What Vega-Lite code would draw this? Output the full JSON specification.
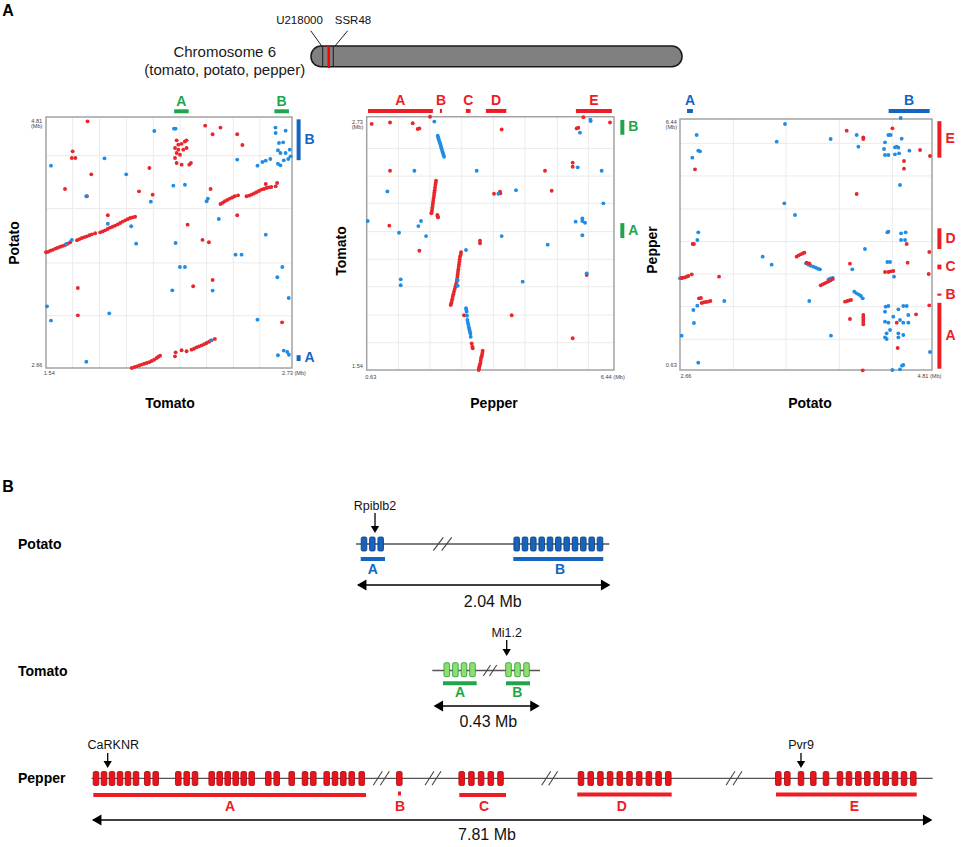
{
"$schema":"https://vega.github.io/schema/vega-lite/v6.json",
"width":964,"height":847,"autosize":{"type":"none"},"padding":0,"background":"white",
"config":{"view":{"stroke":null},"text":{"font":"Liberation Sans"}},
"datasets":{
"clusters":[
{"sp":"tomato","c":"A","start":2.16,"end":2.23,"mid":2.195},
{"sp":"tomato","c":"B","start":2.645,"end":2.715,"mid":2.68},
{"sp":"potato","c":"A","start":2.72,"end":2.77,"mid":2.745},
{"sp":"potato","c":"B","start":4.44,"end":4.79,"mid":4.615},
{"sp":"pepper","c":"A","start":0.66,"end":2.185,"mid":1.42},
{"sp":"pepper","c":"B","start":2.35,"end":2.4,"mid":2.375},
{"sp":"pepper","c":"C","start":2.96,"end":3.07,"mid":3.015},
{"sp":"pepper","c":"D","start":3.43,"end":3.91,"mid":3.67},
{"sp":"pepper","c":"E","start":5.545,"end":6.39,"mid":5.9675}],
"p1":[
{"x":1.540,"y":3.651,"s":"r"},{"x":1.550,"y":3.655,"s":"r"},{"x":1.561,"y":3.665,"s":"r"},{"x":1.573,"y":3.672,"s":"r"},{"x":1.585,"y":3.682,"s":"r"},{"x":1.597,"y":3.690,"s":"r"},{"x":1.609,"y":3.699,"s":"r"},{"x":1.621,"y":3.706,"s":"r"},{"x":1.633,"y":3.714,"s":"r"},{"x":1.645,"y":3.725,"s":"r"},{"x":1.657,"y":3.737,"s":"r"},
{"x":1.690,"y":3.754,"s":"r"},{"x":1.702,"y":3.764,"s":"r"},{"x":1.714,"y":3.774,"s":"r"},{"x":1.726,"y":3.781,"s":"r"},{"x":1.738,"y":3.788,"s":"r"},{"x":1.750,"y":3.797,"s":"r"},{"x":1.762,"y":3.805,"s":"r"},{"x":1.778,"y":3.814,"s":"r"},
{"x":1.802,"y":3.822,"s":"r"},{"x":1.814,"y":3.830,"s":"r"},{"x":1.826,"y":3.839,"s":"r"},{"x":1.838,"y":3.851,"s":"r"},{"x":1.850,"y":3.862,"s":"r"},{"x":1.862,"y":3.870,"s":"r"},{"x":1.874,"y":3.879,"s":"r"},{"x":1.887,"y":3.890,"s":"r"},{"x":1.899,"y":3.902,"s":"r"},{"x":1.911,"y":3.914,"s":"r"},{"x":1.923,"y":3.925,"s":"r"},{"x":1.935,"y":3.935,"s":"r"},{"x":1.947,"y":3.945,"s":"r"},{"x":1.959,"y":3.950,"s":"r"},{"x":1.971,"y":3.956,"s":"r"},
{"x":1.955,"y":2.660,"s":"r"},{"x":1.967,"y":2.667,"s":"r"},{"x":1.979,"y":2.674,"s":"r"},{"x":1.991,"y":2.681,"s":"r"},{"x":2.003,"y":2.689,"s":"r"},{"x":2.015,"y":2.696,"s":"r"},{"x":2.027,"y":2.703,"s":"r"},{"x":2.039,"y":2.710,"s":"r"},{"x":2.051,"y":2.720,"s":"r"},{"x":2.063,"y":2.731,"s":"r"},{"x":2.075,"y":2.746,"s":"r"},{"x":2.084,"y":2.756,"s":"r"},{"x":2.092,"y":2.766,"s":"r"},
{"x":2.164,"y":2.760,"s":"r"},{"x":2.167,"y":2.794,"s":"r"},{"x":2.196,"y":2.812,"s":"r"},{"x":2.220,"y":2.803,"s":"r"},{"x":2.244,"y":2.817,"s":"r"},{"x":2.256,"y":2.825,"s":"r"},{"x":2.268,"y":2.837,"s":"r"},{"x":2.280,"y":2.845,"s":"r"},{"x":2.293,"y":2.854,"s":"r"},{"x":2.305,"y":2.864,"s":"r"},{"x":2.317,"y":2.874,"s":"r"},{"x":2.329,"y":2.885,"s":"r"},{"x":2.341,"y":2.897,"s":"r"},{"x":2.357,"y":2.909,"s":"r"},
{"x":2.384,"y":4.065,"s":"r"},{"x":2.395,"y":4.075,"s":"r"},{"x":2.405,"y":4.088,"s":"r"},{"x":2.417,"y":4.100,"s":"r"},{"x":2.429,"y":4.111,"s":"r"},{"x":2.441,"y":4.120,"s":"r"},{"x":2.453,"y":4.131,"s":"r"},{"x":2.469,"y":4.139,"s":"r"},{"x":2.510,"y":4.131,"s":"r"},{"x":2.522,"y":4.136,"s":"r"},{"x":2.534,"y":4.145,"s":"r"},{"x":2.546,"y":4.155,"s":"r"},{"x":2.558,"y":4.165,"s":"r"},{"x":2.570,"y":4.176,"s":"r"},{"x":2.582,"y":4.188,"s":"r"},{"x":2.594,"y":4.193,"s":"r"},{"x":2.606,"y":4.202,"s":"r"},{"x":2.618,"y":4.207,"s":"r"},{"x":2.630,"y":4.210,"s":"r"},{"x":2.651,"y":4.216,"s":"r"},{"x":2.658,"y":4.245,"s":"r"},{"x":2.603,"y":4.236,"s":"r"},
{"x":2.172,"y":4.610,"s":"r"},{"x":2.220,"y":4.610,"s":"r"},{"x":2.180,"y":4.573,"s":"r"},{"x":2.164,"y":4.544,"s":"r"},{"x":2.204,"y":4.530,"s":"r"},{"x":2.220,"y":4.544,"s":"r"},{"x":2.172,"y":4.502,"s":"r"},{"x":2.188,"y":4.487,"s":"r"},{"x":2.164,"y":4.459,"s":"r"},{"x":2.172,"y":4.416,"s":"r"},{"x":2.196,"y":4.402,"s":"r"},{"x":2.233,"y":4.402,"s":"r"},{"x":2.241,"y":4.416,"s":"r"},{"x":2.180,"y":4.530,"s":"r"},{"x":2.196,"y":4.580,"s":"r"},{"x":2.212,"y":4.600,"s":"r"},
{"x":1.741,"y":4.773,"s":"r"},{"x":1.669,"y":4.516,"s":"r"},{"x":1.665,"y":4.459,"s":"r"},{"x":1.682,"y":4.459,"s":"r"},{"x":1.759,"y":4.319,"s":"r"},{"x":1.632,"y":4.193,"s":"r"},{"x":1.738,"y":4.131,"s":"r"},{"x":2.040,"y":4.373,"s":"r"},{"x":1.990,"y":4.173,"s":"r"},{"x":2.056,"y":4.145,"s":"r"},{"x":1.839,"y":3.968,"s":"r"},{"x":2.310,"y":4.736,"s":"r"},{"x":2.346,"y":4.662,"s":"r"},{"x":2.384,"y":4.719,"s":"r"},{"x":2.465,"y":4.662,"s":"r"},{"x":2.490,"y":4.570,"s":"r"},{"x":2.225,"y":3.888,"s":"r"},{"x":2.297,"y":3.757,"s":"r"},{"x":2.328,"y":3.737,"s":"r"},{"x":2.336,"y":4.193,"s":"r"},{"x":2.465,"y":3.968,"s":"r"},{"x":1.694,"y":3.345,"s":"r"},{"x":1.694,"y":3.111,"s":"r"},{"x":2.252,"y":3.360,"s":"r"},{"x":2.346,"y":3.414,"s":"r"},{"x":2.682,"y":3.051,"s":"r"},
{"x":1.564,"y":4.393,"s":"b"},{"x":1.823,"y":4.456,"s":"b"},{"x":1.928,"y":4.319,"s":"b"},{"x":1.735,"y":4.131,"s":"b"},{"x":2.064,"y":4.690,"s":"b"},{"x":2.159,"y":4.710,"s":"b"},{"x":2.167,"y":4.710,"s":"b"},{"x":2.156,"y":4.222,"s":"b"},{"x":2.212,"y":4.230,"s":"b"},{"x":2.047,"y":4.085,"s":"b"},{"x":2.317,"y":4.088,"s":"b"},{"x":2.323,"y":4.111,"s":"b"},{"x":2.465,"y":4.445,"s":"b"},{"x":2.563,"y":4.393,"s":"b"},{"x":2.587,"y":4.425,"s":"b"},{"x":2.603,"y":4.436,"s":"b"},{"x":2.625,"y":4.450,"s":"b"},{"x":2.650,"y":4.719,"s":"b"},{"x":2.651,"y":4.673,"s":"b"},{"x":2.699,"y":4.693,"s":"b"},{"x":2.667,"y":4.587,"s":"b"},{"x":2.687,"y":4.593,"s":"b"},{"x":2.662,"y":4.525,"s":"b"},{"x":2.674,"y":4.502,"s":"b"},{"x":2.699,"y":4.502,"s":"b"},{"x":2.719,"y":4.530,"s":"b"},{"x":2.662,"y":4.410,"s":"b"},{"x":2.674,"y":4.396,"s":"b"},{"x":2.690,"y":4.439,"s":"b"},{"x":2.712,"y":4.450,"s":"b"},{"x":2.723,"y":4.473,"s":"b"},{"x":1.839,"y":3.896,"s":"b"},{"x":1.952,"y":3.874,"s":"b"},{"x":1.976,"y":3.725,"s":"b"},{"x":1.665,"y":3.757,"s":"b"},{"x":1.638,"y":3.722,"s":"b"},{"x":2.167,"y":3.731,"s":"b"},{"x":2.376,"y":3.936,"s":"b"},{"x":2.603,"y":3.802,"s":"b"},{"x":2.457,"y":3.631,"s":"b"},{"x":2.486,"y":3.631,"s":"b"},{"x":2.188,"y":3.525,"s":"b"},{"x":2.212,"y":3.525,"s":"b"},{"x":2.151,"y":3.325,"s":"b"},{"x":2.346,"y":3.323,"s":"b"},{"x":2.659,"y":3.437,"s":"b"},{"x":2.683,"y":3.525,"s":"b"},{"x":2.714,"y":3.260,"s":"b"},{"x":1.545,"y":3.188,"s":"b"},{"x":1.564,"y":3.066,"s":"b"},{"x":1.846,"y":3.128,"s":"b"},{"x":2.563,"y":3.074,"s":"b"},{"x":1.735,"y":2.714,"s":"b"},{"x":2.662,"y":2.769,"s":"b"},{"x":2.690,"y":2.809,"s":"b"},{"x":2.707,"y":2.797,"s":"b"},{"x":2.715,"y":2.774,"s":"b"},{"x":2.338,"y":2.897,"s":"b"}],
"p2":[
{"x":0.747,"y":2.696,"s":"r"},{"x":1.178,"y":2.703,"s":"r"},{"x":1.711,"y":2.699,"s":"r"},{"x":1.828,"y":2.672,"s":"r"},{"x":1.867,"y":2.675,"s":"r"},{"x":2.118,"y":2.730,"s":"r"},{"x":1.178,"y":2.476,"s":"r"},{"x":1.162,"y":2.218,"s":"r"},{"x":1.867,"y":2.100,"s":"r"},{"x":3.801,"y":2.670,"s":"r"},{"x":4.819,"y":2.476,"s":"r"},{"x":4.976,"y":2.382,"s":"r"},{"x":3.621,"y":2.368,"s":"r"},{"x":3.762,"y":2.378,"s":"r"},{"x":3.770,"y":2.370,"s":"r"},{"x":3.292,"y":2.147,"s":"r"},{"x":3.292,"y":2.135,"s":"r"},{"x":4.036,"y":1.797,"s":"r"},{"x":5.469,"y":1.689,"s":"r"},{"x":5.469,"y":2.514,"s":"r"},{"x":5.469,"y":2.495,"s":"r"},{"x":5.563,"y":2.675,"s":"r"},{"x":5.602,"y":2.678,"s":"r"},{"x":5.720,"y":2.728,"s":"r"},{"x":6.346,"y":2.703,"s":"r"},{"x":5.798,"y":1.986,"s":"r"},
{"x":2.259,"y":2.429,"s":"r"},{"x":2.251,"y":2.419,"s":"r"},{"x":2.243,"y":2.409,"s":"r"},{"x":2.235,"y":2.397,"s":"r"},{"x":2.227,"y":2.385,"s":"r"},{"x":2.219,"y":2.374,"s":"r"},{"x":2.212,"y":2.362,"s":"r"},{"x":2.204,"y":2.350,"s":"r"},{"x":2.196,"y":2.339,"s":"r"},{"x":2.188,"y":2.327,"s":"r"},{"x":2.180,"y":2.315,"s":"r"},{"x":2.172,"y":2.303,"s":"r"},{"x":2.165,"y":2.292,"s":"r"},{"x":2.157,"y":2.282,"s":"r"},{"x":2.149,"y":2.276,"s":"r"},{"x":2.290,"y":2.268,"s":"r"},{"x":2.298,"y":2.262,"s":"r"},{"x":2.306,"y":2.257,"s":"r"},
{"x":2.846,"y":2.093,"s":"r"},{"x":2.838,"y":2.082,"s":"r"},{"x":2.822,"y":2.072,"s":"r"},{"x":2.815,"y":2.060,"s":"r"},{"x":2.807,"y":2.049,"s":"r"},{"x":2.799,"y":2.037,"s":"r"},{"x":2.791,"y":2.025,"s":"r"},{"x":2.783,"y":2.013,"s":"r"},{"x":2.775,"y":2.002,"s":"r"},{"x":2.768,"y":1.990,"s":"r"},{"x":2.760,"y":1.978,"s":"r"},{"x":2.752,"y":1.966,"s":"r"},{"x":2.744,"y":1.955,"s":"r"},{"x":2.729,"y":1.943,"s":"r"},{"x":2.713,"y":1.931,"s":"r"},{"x":2.697,"y":1.920,"s":"r"},{"x":2.681,"y":1.908,"s":"r"},{"x":2.666,"y":1.896,"s":"r"},{"x":2.650,"y":1.884,"s":"r"},{"x":2.639,"y":1.872,"s":"r"},{"x":2.627,"y":1.861,"s":"r"},{"x":2.615,"y":1.853,"s":"r"},{"x":2.603,"y":1.845,"s":"r"},
{"x":2.916,"y":1.797,"s":"r"},{"x":3.096,"y":1.665,"s":"r"},{"x":3.112,"y":1.650,"s":"r"},{"x":3.120,"y":1.642,"s":"r"},
{"x":3.355,"y":1.631,"s":"r"},{"x":3.347,"y":1.620,"s":"r"},{"x":3.339,"y":1.610,"s":"r"},{"x":3.328,"y":1.602,"s":"r"},{"x":3.316,"y":1.595,"s":"r"},{"x":3.308,"y":1.584,"s":"r"},{"x":3.300,"y":1.572,"s":"r"},{"x":3.288,"y":1.564,"s":"r"},{"x":3.277,"y":1.556,"s":"r"},{"x":3.269,"y":1.548,"s":"r"},{"x":3.261,"y":1.540,"s":"r"},
{"x":2.219,"y":2.707,"s":"b"},{"x":5.892,"y":2.710,"s":"b"},{"x":5.884,"y":2.716,"s":"b"},{"x":5.641,"y":2.655,"s":"b"},{"x":1.750,"y":2.476,"s":"b"},{"x":3.214,"y":2.476,"s":"b"},{"x":5.586,"y":2.492,"s":"b"},{"x":6.150,"y":2.476,"s":"b"},{"x":1.115,"y":2.379,"s":"b"},{"x":4.138,"y":2.385,"s":"b"},{"x":3.723,"y":2.368,"s":"b"},{"x":6.189,"y":2.323,"s":"b"},{"x":0.653,"y":2.240,"s":"b"},{"x":1.906,"y":2.240,"s":"b"},{"x":1.844,"y":2.216,"s":"b"},{"x":1.390,"y":2.185,"s":"b"},{"x":2.024,"y":2.169,"s":"b"},{"x":3.801,"y":2.169,"s":"b"},{"x":4.882,"y":2.129,"s":"b"},{"x":2.963,"y":2.104,"s":"b"},{"x":5.539,"y":2.237,"s":"b"},{"x":5.696,"y":2.252,"s":"b"},{"x":5.696,"y":2.240,"s":"b"},{"x":5.759,"y":2.232,"s":"b"},{"x":5.696,"y":2.173,"s":"b"},{"x":5.798,"y":1.994,"s":"b"},{"x":1.429,"y":1.966,"s":"b"},{"x":1.429,"y":1.938,"s":"b"},{"x":4.294,"y":1.955,"s":"b"},{"x":2.768,"y":1.963,"s":"b"},{"x":2.768,"y":1.936,"s":"b"},
{"x":2.298,"y":2.641,"s":"b"},{"x":2.310,"y":2.632,"s":"b"},{"x":2.321,"y":2.624,"s":"b"},{"x":2.337,"y":2.614,"s":"b"},{"x":2.353,"y":2.605,"s":"b"},{"x":2.365,"y":2.597,"s":"b"},{"x":2.376,"y":2.589,"s":"b"},{"x":2.388,"y":2.581,"s":"b"},{"x":2.400,"y":2.573,"s":"b"},{"x":2.411,"y":2.565,"s":"b"},{"x":2.423,"y":2.558,"s":"b"},{"x":2.435,"y":2.550,"s":"b"},{"x":2.447,"y":2.542,"s":"b"},
{"x":2.963,"y":1.830,"s":"b"},{"x":2.971,"y":1.822,"s":"b"},{"x":2.979,"y":1.814,"s":"b"},{"x":2.987,"y":1.795,"s":"b"},{"x":2.995,"y":1.775,"s":"b"},{"x":3.006,"y":1.763,"s":"b"},{"x":3.018,"y":1.752,"s":"b"},{"x":3.030,"y":1.741,"s":"b"},{"x":3.042,"y":1.731,"s":"b"},{"x":3.053,"y":1.721,"s":"b"},{"x":3.065,"y":1.712,"s":"b"},{"x":3.073,"y":1.696,"s":"b"}],
"p3":[
{"x":3.556,"y":6.324,"s":"b"},{"x":3.485,"y":5.915,"s":"b"},{"x":3.945,"y":5.977,"s":"b"},{"x":4.167,"y":6.070,"s":"b"},{"x":4.182,"y":5.800,"s":"b"},{"x":2.802,"y":6.070,"s":"b"},{"x":2.816,"y":5.707,"s":"b"},{"x":2.831,"y":5.692,"s":"b"},{"x":2.765,"y":5.545,"s":"b"},{"x":4.543,"y":6.463,"s":"b"},{"x":4.438,"y":6.070,"s":"b"},{"x":4.457,"y":6.070,"s":"b"},{"x":4.409,"y":5.900,"s":"b"},{"x":4.401,"y":5.746,"s":"b"},{"x":4.409,"y":5.607,"s":"b"},{"x":4.438,"y":5.607,"s":"b"},{"x":4.494,"y":5.784,"s":"b"},{"x":4.509,"y":5.800,"s":"b"},{"x":4.523,"y":5.776,"s":"b"},{"x":4.551,"y":5.985,"s":"b"},{"x":4.494,"y":5.622,"s":"b"},{"x":4.529,"y":5.645,"s":"b"},{"x":4.617,"y":5.707,"s":"b"},{"x":4.537,"y":4.912,"s":"b"},{"x":3.550,"y":4.488,"s":"b"},{"x":3.641,"y":4.218,"s":"b"},{"x":2.816,"y":3.817,"s":"b"},{"x":2.808,"y":3.639,"s":"b"},{"x":4.429,"y":3.817,"s":"b"},{"x":4.438,"y":3.832,"s":"b"},{"x":4.546,"y":3.793,"s":"b"},{"x":4.585,"y":3.817,"s":"b"},{"x":4.546,"y":3.639,"s":"b"},{"x":4.580,"y":3.639,"s":"b"},{"x":4.238,"y":3.431,"s":"b"},{"x":3.365,"y":3.253,"s":"b"},{"x":3.442,"y":3.068,"s":"b"},{"x":3.763,"y":2.227,"s":"b"},{"x":3.038,"y":2.227,"s":"b"},{"x":2.774,"y":2.019,"s":"b"},{"x":2.808,"y":2.119,"s":"b"},{"x":2.779,"y":1.718,"s":"b"},{"x":2.674,"y":1.425,"s":"b"},{"x":2.816,"y":0.800,"s":"b"},{"x":3.948,"y":1.425,"s":"b"},{"x":4.130,"y":2.960,"s":"b"},{"x":4.429,"y":3.130,"s":"b"},{"x":4.452,"y":3.130,"s":"b"},{"x":4.486,"y":2.790,"s":"b"},{"x":4.793,"y":1.047,"s":"b"},{"x":4.415,"y":2.096,"s":"b"},{"x":4.438,"y":2.111,"s":"b"},{"x":4.409,"y":1.980,"s":"b"},{"x":4.480,"y":1.865,"s":"b"},{"x":4.409,"y":1.749,"s":"b"},{"x":4.438,"y":1.726,"s":"b"},{"x":4.537,"y":1.787,"s":"b"},{"x":4.565,"y":2.111,"s":"b"},{"x":4.594,"y":2.111,"s":"b"},{"x":4.523,"y":2.034,"s":"b"},{"x":4.608,"y":1.903,"s":"b"},{"x":4.565,"y":1.726,"s":"b"},{"x":4.608,"y":1.726,"s":"b"},{"x":4.452,"y":1.556,"s":"b"},{"x":4.423,"y":1.479,"s":"b"},{"x":4.409,"y":1.386,"s":"b"},{"x":4.423,"y":1.347,"s":"b"},{"x":4.523,"y":1.479,"s":"b"},{"x":4.523,"y":1.386,"s":"b"},{"x":4.565,"y":1.440,"s":"b"},{"x":4.472,"y":0.630,"s":"b"},{"x":4.537,"y":0.645,"s":"b"},{"x":4.554,"y":0.730,"s":"b"},{"x":4.565,"y":0.746,"s":"b"},{"x":2.671,"y":2.760,"s":"b"},{"x":2.660,"y":2.752,"s":"b"},
{"x":3.735,"y":3.099,"s":"b"},{"x":3.755,"y":3.068,"s":"b"},{"x":3.775,"y":3.045,"s":"b"},{"x":3.798,"y":3.022,"s":"b"},{"x":3.818,"y":2.999,"s":"b"},{"x":3.837,"y":2.976,"s":"b"},{"x":3.854,"y":2.960,"s":"b"},{"x":3.928,"y":2.729,"s":"b"},{"x":3.945,"y":2.752,"s":"b"},{"x":3.963,"y":2.760,"s":"b"},{"x":4.147,"y":2.443,"s":"b"},{"x":4.167,"y":2.405,"s":"b"},{"x":4.187,"y":2.374,"s":"b"},{"x":4.204,"y":2.343,"s":"b"},{"x":4.219,"y":2.289,"s":"b"},
{"x":4.082,"y":6.170,"s":"r"},{"x":4.224,"y":6.016,"s":"r"},{"x":4.224,"y":5.977,"s":"r"},{"x":4.472,"y":6.224,"s":"r"},{"x":2.788,"y":5.275,"s":"r"},{"x":4.167,"y":4.704,"s":"r"},{"x":4.708,"y":5.722,"s":"r"},{"x":4.793,"y":5.584,"s":"r"},{"x":4.571,"y":5.468,"s":"r"},{"x":4.571,"y":5.290,"s":"r"},{"x":4.594,"y":3.547,"s":"r"},{"x":2.768,"y":3.547,"s":"r"},{"x":2.779,"y":3.547,"s":"r"},{"x":4.787,"y":3.361,"s":"r"},{"x":4.110,"y":3.091,"s":"r"},{"x":4.602,"y":3.114,"s":"r"},{"x":4.409,"y":2.898,"s":"r"},{"x":4.438,"y":2.898,"s":"r"},{"x":4.457,"y":2.914,"s":"r"},{"x":4.480,"y":2.922,"s":"r"},{"x":4.782,"y":2.852,"s":"r"},{"x":2.993,"y":2.790,"s":"r"},{"x":4.787,"y":2.127,"s":"r"},{"x":4.674,"y":1.918,"s":"r"},{"x":4.110,"y":1.810,"s":"r"},{"x":4.224,"y":1.903,"s":"r"},{"x":4.224,"y":1.849,"s":"r"},{"x":4.224,"y":1.795,"s":"r"},{"x":4.224,"y":1.741,"s":"r"},{"x":4.224,"y":1.687,"s":"r"},{"x":4.517,"y":1.139,"s":"r"},{"x":4.509,"y":1.726,"s":"r"},{"x":4.219,"y":0.622,"s":"r"},
{"x":2.674,"y":2.760,"s":"r"},{"x":2.688,"y":2.767,"s":"r"},{"x":2.703,"y":2.775,"s":"r"},{"x":2.717,"y":2.790,"s":"r"},{"x":2.731,"y":2.806,"s":"r"},{"x":2.760,"y":2.844,"s":"r"},
{"x":3.655,"y":3.253,"s":"r"},{"x":3.672,"y":3.284,"s":"r"},{"x":3.690,"y":3.307,"s":"r"},{"x":3.707,"y":3.330,"s":"r"},{"x":3.721,"y":3.346,"s":"r"},
{"x":3.860,"y":2.590,"s":"r"},{"x":3.877,"y":2.613,"s":"r"},{"x":3.894,"y":2.636,"s":"r"},{"x":3.911,"y":2.659,"s":"r"},{"x":3.928,"y":2.682,"s":"r"},{"x":3.945,"y":2.705,"s":"r"},{"x":3.963,"y":2.736,"s":"r"},
{"x":2.822,"y":2.289,"s":"r"},{"x":2.839,"y":2.297,"s":"r"},{"x":2.845,"y":2.181,"s":"r"},{"x":2.859,"y":2.196,"s":"r"},{"x":2.879,"y":2.204,"s":"r"},{"x":2.899,"y":2.212,"s":"r"},{"x":2.919,"y":2.227,"s":"r"},
{"x":3.741,"y":3.114,"s":"r"},{"x":3.763,"y":3.099,"s":"r"},
{"x":4.068,"y":2.212,"s":"r"},{"x":4.088,"y":2.227,"s":"r"},{"x":4.105,"y":2.243,"s":"r"},{"x":4.119,"y":2.250,"s":"r"}]
},
"layer":[
{
"encoding":{
"x":{"field":"x","type":"quantitative","scale":{"domain":[0,964],"range":[0,964],"nice":false,"zero":false},"axis":null},
"y":{"field":"y","type":"quantitative","scale":{"domain":[0,847],"range":[0,847],"nice":false,"zero":false},"axis":null}},
"layer":[
{"data":{"values":[{"x":311,"x2":682,"y":46,"y2":66.7}]},"mark":{"type":"rect","fill":"#808080","stroke":"#1a1a1a","strokeWidth":1.5,"cornerRadius":10},"encoding":{"x2":{"field":"x2"},"y2":{"field":"y2"}}},
{"data":{"values":[{"x":322.7,"y":46,"y2":66.7},{"x":333.3,"y":46,"y2":66.7}]},"mark":{"type":"rule","color":"#1a1a1a","strokeWidth":1},"encoding":{"y2":{"field":"y2"}}},
{"data":{"values":[{"x":328.7,"y":45,"y2":68}]},"mark":{"type":"rule","color":"#ff0000","strokeWidth":2.5},"encoding":{"y2":{"field":"y2"}}},
{"data":{"values":[{"x":310.7,"y":30.7,"x2":321.7,"y2":46},{"x":347.7,"y":30.7,"x2":335,"y2":46}]},"mark":{"type":"rule","color":"#222222","strokeWidth":1},"encoding":{"x2":{"field":"x2"},"y2":{"field":"y2"}}},
{"data":{"values":[{"t":"U218000","x":299.5,"y":20.5},{"t":"SSR48","x":353,"y":20.5}]},"mark":{"type":"text","fontSize":11.5,"color":"#111111","baseline":"middle"},"encoding":{"text":{"field":"t"}}},
{"data":{"values":[{"t":"Chromosome 6","x":224.7,"y":51.7},{"t":"(tomato, potato, pepper)","x":224.7,"y":70}]},"mark":{"type":"text","fontSize":15,"color":"#1a1a1a","baseline":"middle"},"encoding":{"text":{"field":"t"}}},
{"data":{"values":[{"t":"A","x":8,"y":11},{"t":"B","x":8,"y":487}]},"mark":{"type":"text","fontSize":16,"fontWeight":"bold","color":"#000000","baseline":"middle"},"encoding":{"text":{"field":"t"}}},
{"data":{"values":[{"t":"Tomato","x":170,"y":404},{"t":"Pepper","x":494,"y":404},{"t":"Potato","x":810,"y":404}]},"mark":{"type":"text","fontSize":14,"fontWeight":"bold","color":"#000000","baseline":"middle"},"encoding":{"text":{"field":"t"}}},
{"data":{"values":[{"t":"Potato","x":15,"y":243},{"t":"Tomato","x":341.5,"y":251},{"t":"Pepper","x":652.5,"y":250}]},"mark":{"type":"text","fontSize":14,"fontWeight":"bold","color":"#000000","baseline":"middle","angle":270},"encoding":{"text":{"field":"t"}}},
{"data":{"values":[{"t":"4.81","x":36.7,"y":120.7},{"t":"(Mb)","x":36.7,"y":125.5},{"t":"2.66","x":37,"y":365},{"t":"1.54","x":49.3,"y":372.7},{"t":"2.73 (Mb)","x":294,"y":372.7},
{"t":"2.73","x":357.5,"y":121.7},{"t":"(Mb)","x":357.5,"y":126.5},{"t":"1.54","x":357.5,"y":366},{"t":"0.63","x":370.8,"y":376.7},{"t":"6.44 (Mb)","x":612.8,"y":376.7},
{"t":"6.44","x":671.3,"y":121.7},{"t":"(Mb)","x":671.3,"y":126.7},{"t":"0.63","x":671.3,"y":365},{"t":"2.66","x":686,"y":376},{"t":"4.81 (Mb)","x":929.5,"y":376}]},
"mark":{"type":"text","fontSize":5.6,"color":"#444444","baseline":"middle"},"encoding":{"text":{"field":"t"}}},
{"data":{"values":[{"x":356,"x2":609.3,"y":544},{"x":432.3,"x2":540,"y":670.5},{"x":91.7,"x2":932.7,"y":778.3}]},"mark":{"type":"rule","color":"#555555","strokeWidth":1.3},"encoding":{"x2":{"field":"x2"}}},
{"data":{"values":[{"x":433.3,"y":550.7,"x2":443.3,"y2":537.3},{"x":441.7,"y":550.7,"x2":451.7,"y2":537.3},
{"x":483.3,"y":676,"x2":490.5,"y2":665},{"x":489.5,"y":676,"x2":496.7,"y2":665},
{"x":373.3,"y":785.3,"x2":382.3,"y2":771.3},{"x":380.3,"y":785.3,"x2":389.3,"y2":771.3},
{"x":425,"y":785.3,"x2":434,"y2":771.3},{"x":432,"y":785.3,"x2":441,"y2":771.3},
{"x":541.7,"y":785.3,"x2":550.7,"y2":771.3},{"x":548.7,"y":785.3,"x2":557.7,"y2":771.3},
{"x":726,"y":785.3,"x2":735,"y2":771.3},{"x":733,"y":785.3,"x2":742,"y2":771.3}]},
"mark":{"type":"rule","color":"#444444","strokeWidth":1.1},"encoding":{"x2":{"field":"x2"},"y2":{"field":"y2"}}},
{"data":{"values":[
{"sp":"potato","x":364,"y":544},{"sp":"potato","x":372.3,"y":544},{"sp":"potato","x":380.7,"y":544},
{"sp":"potato","x":516.7,"y":544},{"sp":"potato","x":525,"y":544},{"sp":"potato","x":533.3,"y":544},{"sp":"potato","x":541.7,"y":544},{"sp":"potato","x":550,"y":544},{"sp":"potato","x":558.3,"y":544},{"sp":"potato","x":566.7,"y":544},{"sp":"potato","x":575,"y":544},{"sp":"potato","x":583.3,"y":544},{"sp":"potato","x":591.7,"y":544},{"sp":"potato","x":600,"y":544},
{"sp":"tomato","x":446.8,"y":669.7},{"sp":"tomato","x":455.4,"y":669.7},{"sp":"tomato","x":464,"y":669.7},{"sp":"tomato","x":472.5,"y":669.7},{"sp":"tomato","x":508.5,"y":669.7},{"sp":"tomato","x":517.5,"y":669.7},{"sp":"tomato","x":526.5,"y":669.7},
{"sp":"pepper","x":96,"y":778.5},{"sp":"pepper","x":104,"y":778.5},{"sp":"pepper","x":112,"y":778.5},{"sp":"pepper","x":120,"y":778.5},{"sp":"pepper","x":128,"y":778.5},{"sp":"pepper","x":136,"y":778.5},{"sp":"pepper","x":147.3,"y":778.5},{"sp":"pepper","x":155.7,"y":778.5},{"sp":"pepper","x":178.3,"y":778.5},{"sp":"pepper","x":186.7,"y":778.5},{"sp":"pepper","x":195,"y":778.5},{"sp":"pepper","x":211.7,"y":778.5},{"sp":"pepper","x":219.7,"y":778.5},{"sp":"pepper","x":227.7,"y":778.5},{"sp":"pepper","x":235.7,"y":778.5},{"sp":"pepper","x":243.7,"y":778.5},{"sp":"pepper","x":251.7,"y":778.5},{"sp":"pepper","x":268.3,"y":778.5},{"sp":"pepper","x":276.7,"y":778.5},{"sp":"pepper","x":291.7,"y":778.5},{"sp":"pepper","x":305,"y":778.5},{"sp":"pepper","x":313.3,"y":778.5},{"sp":"pepper","x":326.7,"y":778.5},{"sp":"pepper","x":335,"y":778.5},{"sp":"pepper","x":343.3,"y":778.5},{"sp":"pepper","x":351.7,"y":778.5},{"sp":"pepper","x":361.7,"y":778.5},
{"sp":"pepper","x":399.3,"y":778.5},
{"sp":"pepper","x":461.7,"y":778.5},{"sp":"pepper","x":471.4,"y":778.5},{"sp":"pepper","x":481.1,"y":778.5},{"sp":"pepper","x":490.8,"y":778.5},{"sp":"pepper","x":500.5,"y":778.5},
{"sp":"pepper","x":581,"y":778.5},{"sp":"pepper","x":590.7,"y":778.5},{"sp":"pepper","x":600.4,"y":778.5},{"sp":"pepper","x":610.1,"y":778.5},{"sp":"pepper","x":619.8,"y":778.5},{"sp":"pepper","x":629.5,"y":778.5},{"sp":"pepper","x":639.2,"y":778.5},{"sp":"pepper","x":648.9,"y":778.5},{"sp":"pepper","x":658.6,"y":778.5},{"sp":"pepper","x":668.3,"y":778.5},
{"sp":"pepper","x":778.3,"y":778.5},{"sp":"pepper","x":787.3,"y":778.5},{"sp":"pepper","x":801,"y":778.5},{"sp":"pepper","x":813.3,"y":778.5},{"sp":"pepper","x":826,"y":778.5},{"sp":"pepper","x":840,"y":778.5},{"sp":"pepper","x":849,"y":778.5},{"sp":"pepper","x":858.3,"y":778.5},{"sp":"pepper","x":867.3,"y":778.5},{"sp":"pepper","x":876.7,"y":778.5},{"sp":"pepper","x":885.7,"y":778.5},{"sp":"pepper","x":895,"y":778.5},{"sp":"pepper","x":904,"y":778.5},{"sp":"pepper","x":913.3,"y":778.5}]},
"mark":{"type":"point","shape":"M-0.4,-0.78Q-0.4,-1,-0.2,-1L0.2,-1Q0.4,-1,0.4,-0.78L0.4,0.78Q0.4,1,0.2,1L-0.2,1Q-0.4,1,-0.4,0.78Z","size":196,"filled":true,"opacity":1,"strokeWidth":0.8},
"encoding":{"fill":{"field":"sp","type":"nominal","scale":{"domain":["potato","tomato","pepper"],"range":["#1763bd","#8fdf6c","#e8141c"]},"legend":null},
"stroke":{"field":"sp","type":"nominal","scale":{"domain":["potato","tomato","pepper"],"range":["#0b3a73","#23973a","#a10a10"]},"legend":null}}},
{"data":{"values":[{"sp":"potato","x":360.7,"x2":385,"y":559},{"sp":"potato","x":513.3,"x2":603.3,"y":559},
{"sp":"tomato","x":443,"x2":476.7,"y":683.3},{"sp":"tomato","x":506,"x2":530,"y":683.3},
{"sp":"pepper","x":93.3,"x2":366,"y":795},{"sp":"pepper","x":398,"x2":401,"y":793.5},{"sp":"pepper","x":459.3,"x2":506,"y":795},{"sp":"pepper","x":577.3,"x2":671.7,"y":794.5},{"sp":"pepper","x":776,"x2":916.7,"y":794.5}]},
"mark":{"type":"rule","strokeWidth":4,"strokeCap":"butt"},
"encoding":{"x2":{"field":"x2"},"color":{"field":"sp","type":"nominal","scale":{"domain":["potato","tomato","pepper"],"range":["#1565c0","#1fa64a","#ee1c25"]},"legend":null}}},
{"data":{"values":[{"sp":"potato","t":"A","x":372.7,"y":570},{"sp":"potato","t":"B","x":560,"y":570},
{"sp":"tomato","t":"A","x":460,"y":693.3},{"sp":"tomato","t":"B","x":517.3,"y":693.3},
{"sp":"pepper","t":"A","x":230,"y":806.7},{"sp":"pepper","t":"B","x":400,"y":806.7},{"sp":"pepper","t":"C","x":484,"y":806.7},{"sp":"pepper","t":"D","x":621.7,"y":806.7},{"sp":"pepper","t":"E","x":854.3,"y":806.7}]},
"mark":{"type":"text","fontSize":14,"fontWeight":"bold","baseline":"middle"},
"encoding":{"text":{"field":"t"},"color":{"field":"sp","type":"nominal","scale":{"domain":["potato","tomato","pepper"],"range":["#1565c0","#1fa64a","#ee1c25"]},"legend":null}}},
{"data":{"values":[{"x":375,"y":513,"y2":528},{"x":506.7,"y":640,"y2":651},{"x":107.7,"y":753,"y2":763},{"x":801,"y":753,"y2":763}]},"mark":{"type":"rule","color":"#000000","strokeWidth":1.3},"encoding":{"y2":{"field":"y2"}}},
{"data":{"values":[{"x":375,"y":529.5},{"x":506.7,"y":652.5},{"x":107.7,"y":764.5},{"x":801,"y":764.5}]},"mark":{"type":"point","shape":"triangle-down","size":70,"filled":true,"color":"#000000","opacity":1}},
{"data":{"values":[{"t":"Rpiblb2","x":375,"y":506},{"t":"Mi1.2","x":506.7,"y":632.5},{"t":"CaRKNR","x":113.3,"y":744.5},{"t":"Pvr9","x":801,"y":744.5}]},"mark":{"type":"text","fontSize":12.5,"color":"#111111","baseline":"middle"},"encoding":{"text":{"field":"t"}}},
{"data":{"values":[{"x":358,"x2":609,"y":585},{"x":435,"x2":538,"y":706},{"x":93,"x2":931,"y":820}]},"mark":{"type":"rule","color":"#000000","strokeWidth":1.5},"encoding":{"x2":{"field":"x2"}}},
{"data":{"values":[{"x":361.7,"y":585},{"x":438.3,"y":706},{"x":96.7,"y":820}]},"mark":{"type":"point","shape":"triangle-left","size":120,"filled":true,"color":"#000000","opacity":1}},
{"data":{"values":[{"x":605.7,"y":585},{"x":535,"y":706},{"x":927.7,"y":820}]},"mark":{"type":"point","shape":"triangle-right","size":120,"filled":true,"color":"#000000","opacity":1}},
{"data":{"values":[{"t":"2.04 Mb","x":492.7,"y":601.7},{"t":"0.43 Mb","x":488.3,"y":721.7},{"t":"7.81 Mb","x":487,"y":835}]},"mark":{"type":"text","fontSize":16,"color":"#111111","baseline":"middle"},"encoding":{"text":{"field":"t"}}},
{"data":{"values":[{"t":"Potato","x":18,"y":545},{"t":"Tomato","x":18,"y":672},{"t":"Pepper","x":18,"y":778.5}]},"mark":{"type":"text","fontSize":14,"fontWeight":"bold","color":"#000000","baseline":"middle","align":"left"},"encoding":{"text":{"field":"t"}}}
]},
{
"layer":[
{"data":{"values":[{"g":1.669},{"g":1.799},{"g":1.929},{"g":2.059},{"g":2.188},{"g":2.317},{"g":2.446},{"g":2.574}]},"mark":{"type":"rule","color":"#ebebeb","strokeWidth":1},
"encoding":{"x":{"field":"g","type":"quantitative","scale":{"domain":[1.54,2.73],"range":[46,292],"nice":false,"zero":false},"axis":null},"y":{"datum":2.66,"type":"quantitative","scale":{"domain":[2.66,4.81],"range":[368,117],"nice":false,"zero":false},"axis":null},"y2":{"datum":4.81}}},
{"data":{"values":[{"g":4.479},{"g":4.025},{"g":3.560},{"g":3.108}]},"mark":{"type":"rule","color":"#ebebeb","strokeWidth":1},
"encoding":{"y":{"field":"g","type":"quantitative","scale":{"domain":[2.66,4.81],"range":[368,117],"nice":false,"zero":false},"axis":null},"x":{"datum":1.54,"type":"quantitative","scale":{"domain":[1.54,2.73],"range":[46,292],"nice":false,"zero":false},"axis":null},"x2":{"datum":2.73}}},
{"data":{"values":[{}]},"mark":{"type":"rect","fill":"transparent","stroke":"#a3a3a3","strokeWidth":1.5},
"encoding":{"x":{"datum":1.54,"type":"quantitative","scale":{"domain":[1.54,2.73],"range":[46,292],"nice":false,"zero":false},"axis":null},"x2":{"datum":2.73},"y":{"datum":2.66,"type":"quantitative","scale":{"domain":[2.66,4.81],"range":[368,117],"nice":false,"zero":false},"axis":null},"y2":{"datum":4.81}}},
{"data":{"name":"p1"},"mark":{"type":"circle","size":15,"opacity":1},
"encoding":{"x":{"field":"x","type":"quantitative","scale":{"domain":[1.54,2.73],"range":[46,292],"nice":false,"zero":false},"axis":null},"y":{"field":"y","type":"quantitative","scale":{"domain":[2.66,4.81],"range":[368,117],"nice":false,"zero":false},"axis":null},"color":{"field":"s","type":"nominal","scale":{"domain":["r","b"],"range":["#e8262c","#1f8de6"]},"legend":null}}},
{"data":{"name":"clusters"},"transform":[{"filter":"datum.sp === 'tomato'"}],"mark":{"type":"rule","strokeWidth":4,"strokeCap":"butt","color":"#1fa64a"},
"encoding":{"x":{"field":"start","type":"quantitative","scale":{"domain":[1.54,2.73],"range":[46,292],"nice":false,"zero":false},"axis":null},"x2":{"field":"end"},"y":{"datum":4.859,"type":"quantitative","scale":{"domain":[2.66,4.81],"range":[368,117],"nice":false,"zero":false},"axis":null}}},
{"data":{"name":"clusters"},"transform":[{"filter":"datum.sp === 'tomato'"}],"mark":{"type":"text","fontSize":14,"fontWeight":"bold","color":"#1fa64a","baseline":"middle","dy":-9},
"encoding":{"x":{"field":"mid","type":"quantitative","scale":{"domain":[1.54,2.73],"range":[46,292],"nice":false,"zero":false},"axis":null},"y":{"datum":4.859,"type":"quantitative","scale":{"domain":[2.66,4.81],"range":[368,117],"nice":false,"zero":false},"axis":null},"text":{"field":"c"}}},
{"data":{"name":"clusters"},"transform":[{"filter":"datum.sp === 'potato'"}],"mark":{"type":"rule","strokeWidth":4,"strokeCap":"butt","color":"#1565c0"},
"encoding":{"y":{"field":"start","type":"quantitative","scale":{"domain":[2.66,4.81],"range":[368,117],"nice":false,"zero":false},"axis":null},"y2":{"field":"end"},"x":{"datum":2.762,"type":"quantitative","scale":{"domain":[1.54,2.73],"range":[46,292],"nice":false,"zero":false},"axis":null}}},
{"data":{"name":"clusters"},"transform":[{"filter":"datum.sp === 'potato'"}],"mark":{"type":"text","fontSize":14,"fontWeight":"bold","color":"#1565c0","baseline":"middle","align":"left","dx":6},
"encoding":{"y":{"field":"mid","type":"quantitative","scale":{"domain":[2.66,4.81],"range":[368,117],"nice":false,"zero":false},"axis":null},"x":{"datum":2.762,"type":"quantitative","scale":{"domain":[1.54,2.73],"range":[46,292],"nice":false,"zero":false},"axis":null},"text":{"field":"c"}}}
]},
{
"layer":[
{"data":{"values":[{"g":1.374},{"g":2.118},{"g":2.862},{"g":3.605},{"g":4.349},{"g":5.109},{"g":5.837}]},"mark":{"type":"rule","color":"#ebebeb","strokeWidth":1},
"encoding":{"x":{"field":"g","type":"quantitative","scale":{"domain":[0.63,6.44],"range":[366.7,614],"nice":false,"zero":false},"axis":null},"y":{"datum":1.54,"type":"quantitative","scale":{"domain":[1.54,2.73],"range":[370,116.7],"nice":false,"zero":false},"axis":null},"y2":{"datum":2.73}}},
{"data":{"values":[{"g":2.581},{"g":2.451},{"g":2.323},{"g":2.190},{"g":2.060},{"g":1.931},{"g":1.798},{"g":1.668}]},"mark":{"type":"rule","color":"#ebebeb","strokeWidth":1},
"encoding":{"y":{"field":"g","type":"quantitative","scale":{"domain":[1.54,2.73],"range":[370,116.7],"nice":false,"zero":false},"axis":null},"x":{"datum":0.63,"type":"quantitative","scale":{"domain":[0.63,6.44],"range":[366.7,614],"nice":false,"zero":false},"axis":null},"x2":{"datum":6.44}}},
{"data":{"values":[{}]},"mark":{"type":"rect","fill":"transparent","stroke":"#a3a3a3","strokeWidth":1.5},
"encoding":{"x":{"datum":0.63,"type":"quantitative","scale":{"domain":[0.63,6.44],"range":[366.7,614],"nice":false,"zero":false},"axis":null},"x2":{"datum":6.44},"y":{"datum":1.54,"type":"quantitative","scale":{"domain":[1.54,2.73],"range":[370,116.7],"nice":false,"zero":false},"axis":null},"y2":{"datum":2.73}}},
{"data":{"name":"p2"},"mark":{"type":"circle","size":15,"opacity":1},
"encoding":{"x":{"field":"x","type":"quantitative","scale":{"domain":[0.63,6.44],"range":[366.7,614],"nice":false,"zero":false},"axis":null},"y":{"field":"y","type":"quantitative","scale":{"domain":[1.54,2.73],"range":[370,116.7],"nice":false,"zero":false},"axis":null},"color":{"field":"s","type":"nominal","scale":{"domain":["r","b"],"range":["#e8262c","#1f8de6"]},"legend":null}}},
{"data":{"name":"clusters"},"transform":[{"filter":"datum.sp === 'pepper'"}],"mark":{"type":"rule","strokeWidth":4,"strokeCap":"butt","color":"#ee1c25"},
"encoding":{"x":{"field":"start","type":"quantitative","scale":{"domain":[0.63,6.44],"range":[366.7,614],"nice":false,"zero":false},"axis":null},"x2":{"field":"end"},"y":{"datum":2.757,"type":"quantitative","scale":{"domain":[1.54,2.73],"range":[370,116.7],"nice":false,"zero":false},"axis":null}}},
{"data":{"name":"clusters"},"transform":[{"filter":"datum.sp === 'pepper'"}],"mark":{"type":"text","fontSize":14,"fontWeight":"bold","color":"#ee1c25","baseline":"middle","dy":-10},
"encoding":{"x":{"field":"mid","type":"quantitative","scale":{"domain":[0.63,6.44],"range":[366.7,614],"nice":false,"zero":false},"axis":null},"y":{"datum":2.757,"type":"quantitative","scale":{"domain":[1.54,2.73],"range":[370,116.7],"nice":false,"zero":false},"axis":null},"text":{"field":"c"}}},
{"data":{"name":"clusters"},"transform":[{"filter":"datum.sp === 'tomato'"}],"mark":{"type":"rule","strokeWidth":4,"strokeCap":"butt","color":"#1fa64a"},
"encoding":{"y":{"field":"start","type":"quantitative","scale":{"domain":[1.54,2.73],"range":[370,116.7],"nice":false,"zero":false},"axis":null},"y2":{"field":"end"},"x":{"datum":6.636,"type":"quantitative","scale":{"domain":[0.63,6.44],"range":[366.7,614],"nice":false,"zero":false},"axis":null}}},
{"data":{"name":"clusters"},"transform":[{"filter":"datum.sp === 'tomato'"}],"mark":{"type":"text","fontSize":14,"fontWeight":"bold","color":"#1fa64a","baseline":"middle","align":"left","dx":6},
"encoding":{"y":{"field":"mid","type":"quantitative","scale":{"domain":[1.54,2.73],"range":[370,116.7],"nice":false,"zero":false},"axis":null},"x":{"datum":6.636,"type":"quantitative","scale":{"domain":[0.63,6.44],"range":[366.7,614],"nice":false,"zero":false},"axis":null},"text":{"field":"c"}}}
]},
{
"layer":[
{"data":{"values":[{"g":3.115},{"g":3.564},{"g":4.019},{"g":4.472}]},"mark":{"type":"rule","color":"#ebebeb","strokeWidth":1},
"encoding":{"x":{"field":"g","type":"quantitative","scale":{"domain":[2.66,4.81],"range":[680,932],"nice":false,"zero":false},"axis":null},"y":{"datum":0.63,"type":"quantitative","scale":{"domain":[0.63,6.44],"range":[370,119],"nice":false,"zero":false},"axis":null},"y2":{"datum":6.44}}},
{"data":{"values":[{"g":5.877},{"g":5.121},{"g":4.357},{"g":3.601},{"g":2.852},{"g":2.096},{"g":1.340}]},"mark":{"type":"rule","color":"#ebebeb","strokeWidth":1},
"encoding":{"y":{"field":"g","type":"quantitative","scale":{"domain":[0.63,6.44],"range":[370,119],"nice":false,"zero":false},"axis":null},"x":{"datum":2.66,"type":"quantitative","scale":{"domain":[2.66,4.81],"range":[680,932],"nice":false,"zero":false},"axis":null},"x2":{"datum":4.81}}},
{"data":{"values":[{}]},"mark":{"type":"rect","fill":"transparent","stroke":"#a3a3a3","strokeWidth":1.5},
"encoding":{"x":{"datum":2.66,"type":"quantitative","scale":{"domain":[2.66,4.81],"range":[680,932],"nice":false,"zero":false},"axis":null},"x2":{"datum":4.81},"y":{"datum":0.63,"type":"quantitative","scale":{"domain":[0.63,6.44],"range":[370,119],"nice":false,"zero":false},"axis":null},"y2":{"datum":6.44}}},
{"data":{"name":"p3"},"mark":{"type":"circle","size":15,"opacity":1},
"encoding":{"x":{"field":"x","type":"quantitative","scale":{"domain":[2.66,4.81],"range":[680,932],"nice":false,"zero":false},"axis":null},"y":{"field":"y","type":"quantitative","scale":{"domain":[0.63,6.44],"range":[370,119],"nice":false,"zero":false},"axis":null},"color":{"field":"s","type":"nominal","scale":{"domain":["r","b"],"range":["#e8262c","#1f8de6"]},"legend":null}}},
{"data":{"name":"clusters"},"transform":[{"filter":"datum.sp === 'potato'"}],"mark":{"type":"rule","strokeWidth":4,"strokeCap":"butt","color":"#1565c0"},
"encoding":{"x":{"field":"start","type":"quantitative","scale":{"domain":[2.66,4.81],"range":[680,932],"nice":false,"zero":false},"axis":null},"x2":{"field":"end"},"y":{"datum":6.625,"type":"quantitative","scale":{"domain":[0.63,6.44],"range":[370,119],"nice":false,"zero":false},"axis":null}}},
{"data":{"name":"clusters"},"transform":[{"filter":"datum.sp === 'potato'"}],"mark":{"type":"text","fontSize":14,"fontWeight":"bold","color":"#1565c0","baseline":"middle","dy":-10},
"encoding":{"x":{"field":"mid","type":"quantitative","scale":{"domain":[2.66,4.81],"range":[680,932],"nice":false,"zero":false},"axis":null},"y":{"datum":6.625,"type":"quantitative","scale":{"domain":[0.63,6.44],"range":[370,119],"nice":false,"zero":false},"axis":null},"text":{"field":"c"}}},
{"data":{"name":"clusters"},"transform":[{"filter":"datum.sp === 'pepper'"}],"mark":{"type":"rule","strokeWidth":4,"strokeCap":"butt","color":"#ee1c25"},
"encoding":{"y":{"field":"start","type":"quantitative","scale":{"domain":[0.63,6.44],"range":[370,119],"nice":false,"zero":false},"axis":null},"y2":{"field":"end"},"x":{"datum":4.873,"type":"quantitative","scale":{"domain":[2.66,4.81],"range":[680,932],"nice":false,"zero":false},"axis":null}}},
{"data":{"name":"clusters"},"transform":[{"filter":"datum.sp === 'pepper'"}],"mark":{"type":"text","fontSize":14,"fontWeight":"bold","color":"#ee1c25","baseline":"middle","align":"left","dx":6},
"encoding":{"y":{"field":"mid","type":"quantitative","scale":{"domain":[0.63,6.44],"range":[370,119],"nice":false,"zero":false},"axis":null},"x":{"datum":4.873,"type":"quantitative","scale":{"domain":[2.66,4.81],"range":[680,932],"nice":false,"zero":false},"axis":null},"text":{"field":"c"}}}
]}
],
"resolve":{"scale":{"x":"independent","y":"independent","color":"independent","fill":"independent","stroke":"independent"},"axis":{"x":"independent","y":"independent"}}
}
